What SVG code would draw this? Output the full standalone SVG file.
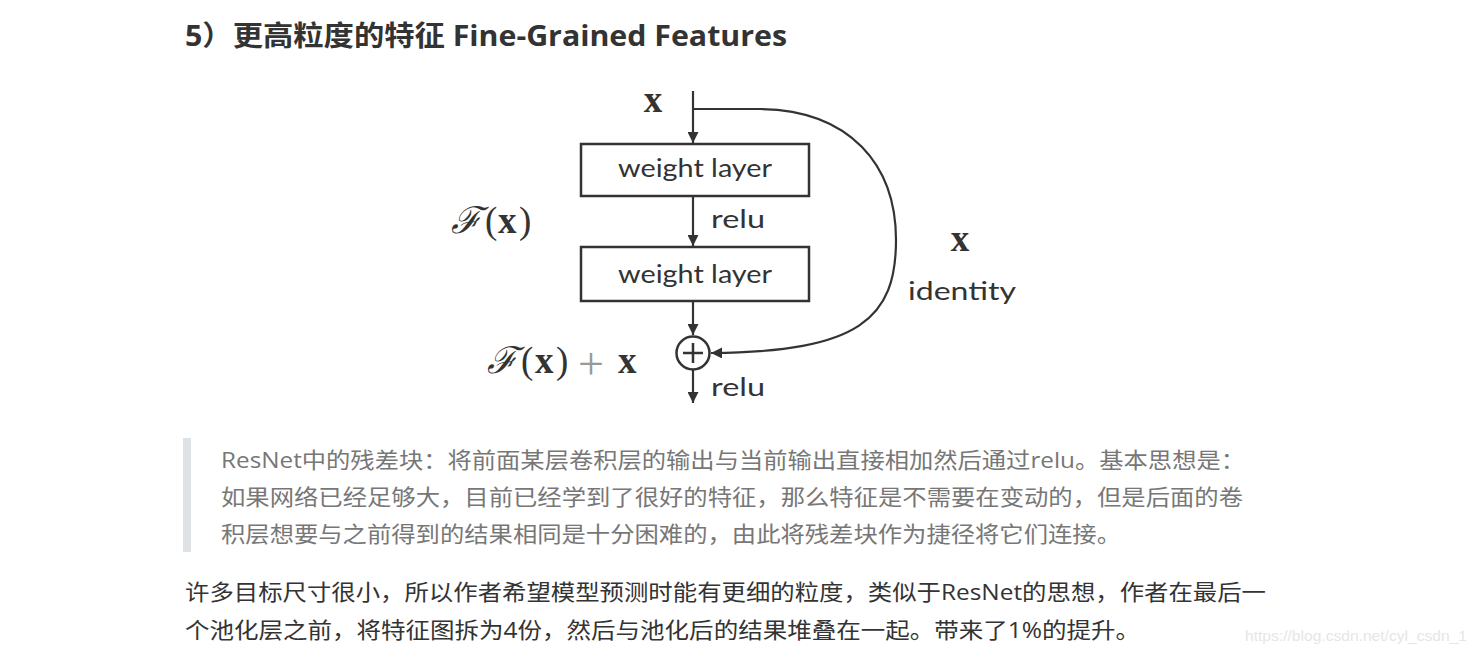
<svg xmlns="http://www.w3.org/2000/svg" width="1477" height="654" viewBox="0 0 1477 654">
<style>
.box{fill:#fff;stroke:#333;stroke-width:2.5}
.ln{fill:none;stroke:#333;stroke-width:2.2}
.lbl{font-family:Lato,"Open Sans","Liberation Sans",sans-serif;font-size:25px;fill:#333}
.math{font-family:"Liberation Serif","DejaVu Serif",serif;font-size:37px;fill:#333}
.mb{font-weight:bold}
.sc{font-family:"DejaVu Serif",serif;font-style:italic}
.cn{font-family:"Open Sans","Noto Sans CJK SC",sans-serif;font-size:22px}
</style>
<defs>
<marker id="ah" viewBox="0 0 10 10" refX="10" refY="5" markerWidth="5" markerHeight="5" orient="auto" markerUnits="strokeWidth">
<path d="M0,0 L10,5 L0,10 Z" fill="#333"/>
</marker>
</defs>
<rect width="1477" height="654" fill="#fff"/>
<text x="185" y="46" font-family="'Open Sans','Noto Sans CJK SC',sans-serif" font-weight="bold" font-size="28" fill="#333" textLength="602" lengthAdjust="spacingAndGlyphs">5）更高粒度的特征 Fine-Grained Features</text>

<g id="connectors">
<line class="ln" x1="693" y1="91" x2="693" y2="143" marker-end="url(#ah)"/>
<line class="ln" x1="693" y1="197" x2="693" y2="246" marker-end="url(#ah)"/>
<line class="ln" x1="693" y1="302" x2="693" y2="335" marker-end="url(#ah)"/>
<line class="ln" x1="693" y1="370" x2="693" y2="403" marker-end="url(#ah)"/>
<path class="ln" d="M693,109 L760,109 C850,110 896,165 896,240 C896,318 860,352 711,353" marker-end="url(#ah)"/>
</g>

<g id="node-x">
<text class="math mb" x="653" y="112" text-anchor="middle">x</text>
</g>
<g id="node-weight1">
<rect class="box" x="581" y="144" width="228" height="52"/>
<text class="lbl" x="695" y="177" text-anchor="middle" textLength="154" lengthAdjust="spacingAndGlyphs">weight layer</text>
</g>
<g id="node-relu1">
<text class="lbl" x="711" y="228" textLength="54" lengthAdjust="spacingAndGlyphs">relu</text>
</g>
<g id="node-weight2">
<rect class="box" x="581" y="247" width="228" height="54"/>
<text class="lbl" x="695" y="283" text-anchor="middle" textLength="154" lengthAdjust="spacingAndGlyphs">weight layer</text>
</g>
<g id="node-Fx">
<text class="math" y="233" fill="#444"><tspan class="sc" x="451">ℱ</tspan><tspan x="485">(</tspan><tspan class="mb" x="498">x</tspan><tspan x="519">)</tspan></text>
</g>
<g id="node-sum">
<circle cx="693" cy="353" r="16.5" fill="#fff" stroke="#333" stroke-width="2.5"/>
<line x1="683" y1="353" x2="703" y2="353" stroke="#333" stroke-width="2.5"/>
<line x1="693" y1="343" x2="693" y2="363" stroke="#333" stroke-width="2.5"/>
</g>
<g id="node-Fxpx">
<text class="math" y="373" fill="#444"><tspan class="sc" x="487">ℱ</tspan><tspan x="521">(</tspan><tspan class="mb" x="535">x</tspan><tspan x="556">)</tspan><tspan x="578" y="379" fill="#999" font-size="46">+</tspan><tspan class="mb" x="618" y="373">x</tspan></text>
</g>
<g id="node-relu2">
<text class="lbl" x="711" y="396" textLength="54" lengthAdjust="spacingAndGlyphs">relu</text>
</g>
<g id="node-identity">
<text class="math mb" x="960" y="251" text-anchor="middle">x</text>
<text class="lbl" x="908" y="300" textLength="108" lengthAdjust="spacingAndGlyphs">identity</text>
</g>

<g id="quote">
<rect x="183" y="438" width="8" height="114" fill="#dfe2e5"/>
<g class="cn" fill="#777">
<text x="221" y="468" textLength="1024" lengthAdjust="spacingAndGlyphs">ResNet中的残差块：将前面某层卷积层的输出与当前输出直接相加然后通过relu。基本思想是：</text>
<text x="221" y="505" textLength="1022" lengthAdjust="spacingAndGlyphs">如果网络已经足够大，目前已经学到了很好的特征，那么特征是不需要在变动的，但是后面的卷</text>
<text x="221" y="542" textLength="900" lengthAdjust="spacingAndGlyphs">积层想要与之前得到的结果相同是十分困难的，由此将残差块作为捷径将它们连接。</text>
</g>
</g>
<g id="body" class="cn" fill="#333">
<text x="185" y="600" textLength="1081" lengthAdjust="spacingAndGlyphs">许多目标尺寸很小，所以作者希望模型预测时能有更细的粒度，类似于ResNet的思想，作者在最后一</text>
<text x="185" y="638" textLength="955" lengthAdjust="spacingAndGlyphs">个池化层之前，将特征图拆为4份，然后与池化后的结果堆叠在一起。带来了1%的提升。</text>
</g>
<text x="1245" y="641" font-family="'Liberation Sans',Arial,sans-serif" font-size="15" fill="#e6e6e6" textLength="222" lengthAdjust="spacingAndGlyphs">https://blog.csdn.net/cyl_csdn_1</text>
</svg>
